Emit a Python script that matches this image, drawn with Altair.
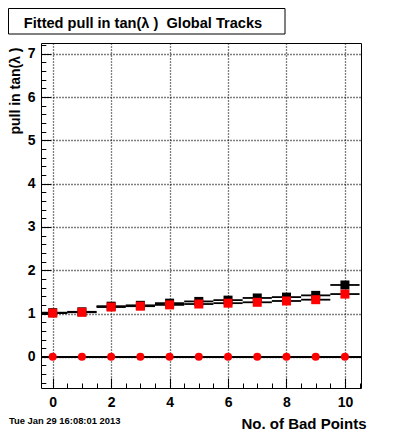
import altair as alt
import pandas as pd

# ---- data ----
x_vals = [0, 1, 2, 3, 4, 5, 6, 7, 8, 9, 10]
black_pull = [1.02, 1.04, 1.17, 1.19, 1.24, 1.28, 1.31, 1.36, 1.38, 1.42, 1.66]
red_pull = [1.01, 1.03, 1.15, 1.17, 1.20, 1.22, 1.24, 1.26, 1.29, 1.32, 1.45]
zero_pull = [0.0, 0.0, 0.0, 0.0, 0.0, 0.0, 0.0, 0.0, 0.0, 0.0, 0.0]

x_major = [0, 2, 4, 6, 8, 10]
x_minor = [round(0.5 * i, 1) for i in range(22)]
y_major = [0, 1, 2, 3, 4, 5, 6, 7]
y_minor = [round(-0.6 + 0.2 * i, 1) for i in range(40)]

title_text = "Fitted pull in tan(λ ) \u00a0Global Tracks"
y_title = "pull in tan(λ )"
x_title = "No. of Bad Points"
date_text = "Tue Jan 29 16:08:01 2013"

FONT = "Liberation Sans"

df = pd.DataFrame({
    "x": x_vals,
    "lo": [v - 0.5 for v in x_vals],
    "hi": [v + 0.5 for v in x_vals],
    "black": black_pull,
    "red": red_pull,
    "zero": zero_pull,
})

xs = alt.Scale(domain=[-0.4, 10.55], nice=False, zero=False)
ys = alt.Scale(domain=[-0.72, 7.25], nice=False, zero=False)

main_x = alt.Axis(orient="bottom", values=x_major, grid=True, gridDash=[1, 2],
                  gridColor="black", gridOpacity=1, gridWidth=1.3, domain=False,
                  ticks=False, tickSize=0, labelPadding=7, labelFont=FONT,
                  labelFontSize=14, labelFontWeight="bold", labelColor="black",
                  labelFlush=False, labelOverlap=False,
                  title=x_title, titleFont=FONT, titleFontSize=15,
                  titleFontWeight="bold", titleColor="black", titleAlign="right",
                  titleBaseline="alphabetic", titleX=325, titleY=40, format="d")
main_y = alt.Axis(orient="left", values=y_major, grid=True, gridDash=[1, 2],
                  gridColor="black", gridOpacity=1, gridWidth=1.3, domain=False,
                  ticks=False, tickSize=0, labelPadding=6, labelFont=FONT,
                  labelFontSize=14, labelFontWeight="bold", labelColor="black",
                  labelFlush=False, labelOverlap=False, labelBaseline="middle",
                  title=y_title, titleFont=FONT, titleFontSize=14,
                  titleFontWeight="bold", titleColor="black", titleAngle=270,
                  titleAlign="right", titleBaseline="middle", titleX=-26, titleY=4,
                  format="d")
major_x = alt.Axis(orient="top", offset=-345, values=x_major, labels=False,
                   domain=False, grid=False, ticks=True, tickSize=10,
                   tickColor="black", tickWidth=1, title=None)
major_y = alt.Axis(orient="right", offset=-320, values=y_major, labels=False,
                   domain=False, grid=False, ticks=True, tickSize=9.6,
                   tickColor="black", tickWidth=1, title=None)
minor_x = alt.Axis(orient="top", offset=-345, values=x_minor, labels=False,
                   domain=False, grid=False, ticks=True, tickSize=5,
                   tickColor="black", tickWidth=1, title=None)
minor_y = alt.Axis(orient="right", offset=-320, values=y_minor, labels=False,
                   domain=False, grid=False, ticks=True, tickSize=4.8,
                   tickColor="black", tickWidth=1, title=None)

base = alt.Chart(df)

zero_line = base.mark_rule(color="black", strokeWidth=1.4).encode(
    x=alt.value(0), x2=alt.value(320),
    y=alt.Y("zero:Q", scale=ys, axis=None))

steps_hi = base.mark_rule(color="black", strokeWidth=1.8, clip=True).encode(
    x=alt.X("lo:Q", scale=xs, axis=None), x2="hi:Q",
    y=alt.Y("black:Q", scale=ys, axis=None))
steps_lo = base.mark_rule(color="black", strokeWidth=1.8, clip=True).encode(
    x=alt.X("lo:Q", scale=xs, axis=None), x2="hi:Q",
    y=alt.Y("red:Q", scale=ys, axis=None))

black_sq = base.mark_square(color="black", size=81, opacity=1).encode(
    x=alt.X("x:Q", scale=xs, axis=main_x),
    y=alt.Y("black:Q", scale=ys, axis=main_y))
red_sq = base.mark_square(color="#ff0000", size=81, opacity=1).encode(
    x=alt.X("x:Q", scale=xs, axis=major_x),
    y=alt.Y("red:Q", scale=ys, axis=major_y))
red_circ = base.mark_circle(color="#ff0000", size=64, opacity=1).encode(
    x=alt.X("x:Q", scale=xs, axis=minor_x),
    y=alt.Y("zero:Q", scale=ys, axis=minor_y))

title_df = pd.DataFrame({"label": [title_text]})
title_box = alt.Chart(title_df).mark_rect(fill="white", stroke="black", strokeWidth=1).encode(
    x=alt.value(-32.5), x2=alt.value(244), y=alt.value(-34.5), y2=alt.value(-9))
title_lbl = alt.Chart(title_df).mark_text(
    font=FONT, fontSize=14.6, fontWeight="bold", align="center",
    baseline="alphabetic", color="black").encode(
    x=alt.value(102), y=alt.value(-15), text="label:N")

date_df = pd.DataFrame({"label": [date_text]})
date_lbl = alt.Chart(date_df).mark_text(
    font=FONT, fontSize=9.4, fontWeight="bold", align="left",
    baseline="alphabetic", color="black").encode(
    x=alt.value(-32), y=alt.value(381), text="label:N")

chart = alt.layer(
    zero_line, steps_hi, steps_lo, black_sq, red_sq, red_circ,
    title_box, title_lbl, date_lbl
).resolve_axis(
    x="independent", y="independent"
).properties(
    width=320, height=345,
    autosize=alt.AutoSizeParams(type="none"),
    padding={"left": 33, "top": 35, "right": 31, "bottom": 42},
    background="white",
).configure_view(stroke="black", strokeWidth=1)

chart.save("out.html", embed_options={"renderer": "svg", "actions": False})
